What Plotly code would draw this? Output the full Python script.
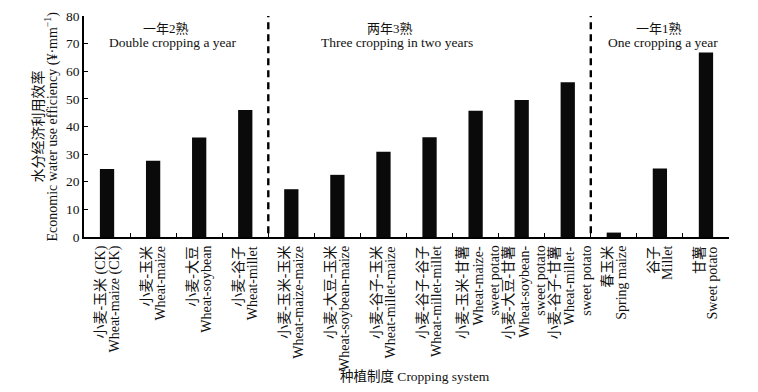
import plotly.graph_objects as go

categories = ["c1", "c2", "c3", "c4", "c5", "c6", "c7", "c8", "c9", "c10", "c11", "c12", "c13", "c14"]
cn_labels = ["小麦-玉米 (CK)", "小麦-玉米", "小麦-大豆", "小麦-谷子",
             "小麦-玉米-玉米", "小麦-大豆-玉米", "小麦-谷子-玉米", "小麦-谷子-谷子",
             "小麦-玉米-甘薯", "小麦-大豆-甘薯", "小麦-谷子-甘薯",
             "春玉米", "谷子", "甘薯"]
en_labels = [["Wheat-maize (CK)"], ["Wheat-maize"], ["Wheat-soybean"], ["Wheat-millet"],
             ["Wheat-maize-maize"], ["Wheat-soybean-maize"], ["Wheat-millet-maize"], ["Wheat-millet-millet"],
             ["Wheat-maize-", "sweet potato"], ["Wheat-soybean-", "sweet potato"], ["Wheat-millet-", "sweet potato"],
             ["Spring maize"], ["Millet"], ["Sweet potato"]]
values = [24.6, 27.6, 36.0, 46.0, 17.3, 22.5, 30.9, 36.1, 45.7, 49.6, 56.0, 1.6, 24.8, 66.8]
group_cn = ["一年2熟", "两年3熟", "一年1熟"]
group_en = ["Double cropping a year", "Three cropping in two years", "One cropping a year"]
group_dividers = [3.5, 10.5]
y_ticks = [0, 10, 20, 30, 40, 50, 60, 70, 80]

# layout constants (positions in axis units)
GROUP_CN_X = [1.28, 6.15, 11.98]
GROUP_EN_X = [1.43, 6.30, 12.07]

FONT = "Liberation Serif, Times New Roman, Noto Sans CJK SC, serif"
TXT = "#111"

fig = go.Figure()
fig.add_trace(go.Bar(x=categories, y=values, width=0.31,
                     marker=dict(color="#0a0a0a", line=dict(width=0))))

for d in group_dividers:
    fig.add_shape(type="line", xref="x", yref="y", x0=d, x1=d, y0=-3, y1=80,
                  line=dict(color="black", width=2.4, dash="7px,5px"))

for cx, ex, cn, en in zip(GROUP_CN_X, GROUP_EN_X, group_cn, group_en):
    fig.add_annotation(x=cx, y=75.3, xref="x", yref="y", text=cn, showarrow=False,
                       font=dict(size=13, family=FONT, color=TXT))
    fig.add_annotation(x=ex, y=70.3, xref="x", yref="y", text=en, showarrow=False,
                       font=dict(size=13.5, family=FONT, color=TXT))

# category labels: vertical columns, Chinese then English line(s)
for cat, cn, en in zip(categories, cn_labels, en_labels):
    lines = [cn] + en
    offsets = [-7, 7] if len(lines) == 2 else [-13, 2, 18]
    for txt, dx in zip(lines, offsets):
        fig.add_annotation(x=cat, y=0, xref="x", yref="y", text=txt, showarrow=False,
                           textangle=-90, xanchor="center", yanchor="top",
                           xshift=dx, yshift=-7,
                           font=dict(size=14, family=FONT, color=TXT))

fig.add_annotation(x=0.5, y=-0.629, xref="paper", yref="paper",
                   text="种植制度 Cropping system", showarrow=False, xshift=8,
                   xanchor="center", yanchor="middle",
                   font=dict(size=13.5, family=FONT, color=TXT))
fig.add_annotation(x=0, y=0.5, xref="paper", yref="paper",
                   text="水分经济利用效率", textangle=-90, showarrow=False, xshift=-47,
                   xanchor="center", yanchor="middle",
                   font=dict(size=14, family=FONT, color=TXT))
fig.add_annotation(x=0, y=0.5, xref="paper", yref="paper",
                   text="Economic water use efficiency (¥·mm<sup>−1</sup>)",
                   textangle=-90, showarrow=False, xshift=-32,
                   xanchor="center", yanchor="middle",
                   font=dict(size=14, family=FONT, color=TXT))

fig.update_layout(
    width=750, height=384,
    margin=dict(l=76, r=29, t=8, b=155),
    plot_bgcolor="white", paper_bgcolor="white",
    showlegend=False,
    font=dict(family=FONT, color=TXT, size=14),
)
fig.update_xaxes(
    type="category", tickmode="array", tickvals=categories, showticklabels=False,
    tickson="boundaries", ticks="inside", ticklen=4, tickcolor="black",
    showline=True, linecolor="black", linewidth=1.5, showgrid=False, zeroline=False,
    automargin=False, range=[-0.5, 13.5],
)
fig.update_yaxes(
    range=[0, 80], tickvals=y_ticks, ticks="inside", ticklen=4, tickcolor="black",
    showline=True, linecolor="black", linewidth=1.5, showgrid=False, zeroline=False,
    automargin=False,
    tickfont=dict(size=13.5, family=FONT, color=TXT),
)

fig.write_html("out.html")
